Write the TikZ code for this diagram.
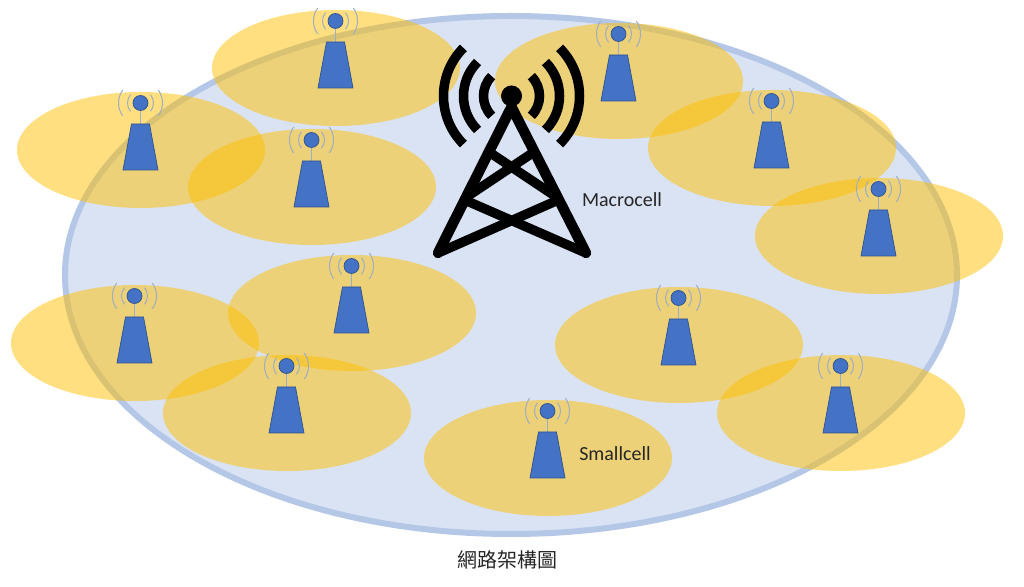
\documentclass[tikz,border=0pt]{standalone}
\usepackage{fontspec}
\usetikzlibrary{calc}
\setmainfont{Carlito}
\newfontfamily\cjkfont{Noto Sans CJK TC}
\definecolor{netfill}{HTML}{DAE3F3}
\definecolor{netline}{HTML}{B4C7E7}
\definecolor{cellfill}{HTML}{FFC000}
\definecolor{towerfill}{HTML}{4472C4}
\definecolor{towerline}{HTML}{2F528F}
\definecolor{waveline}{HTML}{9DADC4}
\tikzset{
	cell/.style = {fill = cellfill, fill opacity = 0.5},
	tower/.style = {fill = towerfill, draw = towerline, line width = 0.7pt},
	smallwave/.style = {draw = waveline, line width = 1pt},
	mast/.style = {line width = 10.5pt, line cap = round, line join = round},
	bar/.style = {line width = 9.5pt},
	bigwave/.style = {line width = 9.5pt},
	textlabel/.style = {text = black!85, font = \fontsize{20}{24}\selectfont}
}
\begin{document}
\begin{tikzpicture}[x = 1pt, y = 1pt]
	\useasboundingbox (0,0) rectangle (1024,586);
	\fill[white] (0,0) rectangle (1024,586);
	
	% network area
	\draw[fill = netfill, draw = netline, line width = 6pt] (511,311) ellipse (446 and 259);
	
	% small cells
	\foreach \cx/\cy in {141/436, 336/518, 312/399, 619/505, 772/438, 879/350, 352/273, 135/243, 287/173, 679/241, 841/173, 548/128}
	{
		\fill[cell] (\cx,\cy) ellipse (124 and 58);
	}
	
	% small towers
	\foreach \cx/\cy in {141/436, 336/518, 312/399, 619/505, 772/438, 879/350, 352/273, 135/243, 287/173, 679/241, 841/173, 548/128}
	{
		\begin{scope}[shift = {(\cx,\cy)}]
			\draw[waveline, line width = 1pt] (-0.5,40) -- (-0.5,26);
			\draw[tower] (-9.5,26) -- (8.5,26) -- (17,-20) -- (-18,-20) -- cycle;
			\draw[tower] (-0.5,47) circle (7.5);
			% waves
			\foreach \wr/\wa in {13/40, 22/36}
			{
				\draw[smallwave] ($(-0.5,47) + (\wa:\wr)$) arc (\wa:-\wa:\wr);
				\draw[smallwave] ($(-0.5,47) + (180-\wa:\wr)$) arc (180-\wa:180+\wa:\wr);
			}
		\end{scope}
	}
	
	% macro tower
	\coordinate (top) at (511.5,490);
	\coordinate (footl) at (438,333);
	\coordinate (footr) at (586,333);
	\fill (top) circle (10.5);
	\draw[mast] (footl) -- (511.5,479) -- (footr);
	\draw[bar] (footl) -- (556,385);
	\draw[bar] (footr) -- (467,385);
	\draw[bar] (555,390) -- (489,434);
	\draw[bar] (468,390) -- (534,434);
	
	% macro waves
	\foreach \wr in {28, 48, 68}
	{
		\draw[bigwave] ($(top) + (45:\wr)$) arc (45:-45:\wr);
		\draw[bigwave] ($(top) + (135:\wr)$) arc (135:225:\wr);
	}
	
	% texts
	\node[textlabel] (macro) at (622,386) {Macrocell};
	\node[textlabel] (small) at (615,132) {Smallcell};
	\node[textlabel, font = \cjkfont\fontsize{20}{24}\selectfont] (caption) at (507,26) {網路架構圖};
\end{tikzpicture}
\end{document}
